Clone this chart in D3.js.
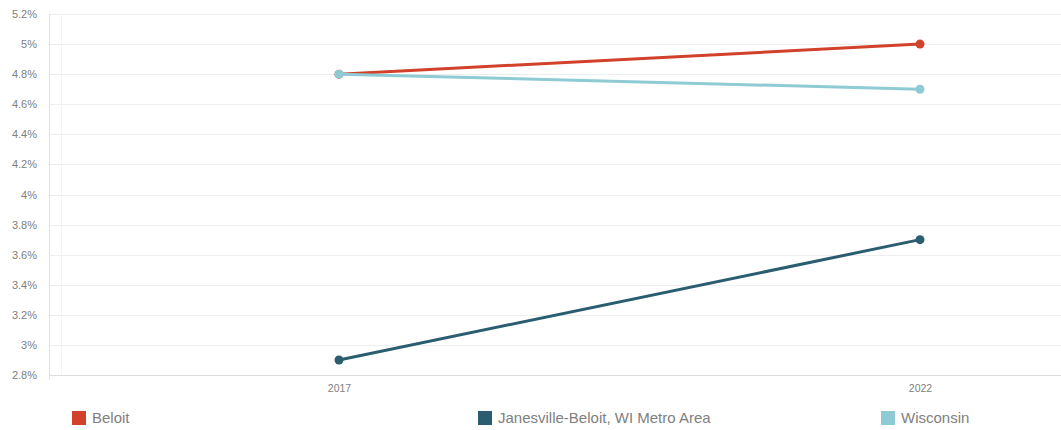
<!DOCTYPE html>
<html>
<head>
<meta charset="utf-8">
<script src="https://cdn.jsdelivr.net/npm/d3@7"></script>
<style>
  body { margin: 0; background: #fff; font-family: "Liberation Sans", Arial, sans-serif; }
  .tick text { fill: #808080; }
</style>
</head>
<body>
<div id="app"></div>
<script>
let years = ['2017', '2022']
let seriesNames = ['Beloit', 'Janesville-Beloit, WI Metro Area', 'Wisconsin']
let beloitValues = [4.8, 5.0]
let metroValues = [2.9, 3.7]
let wisconsinValues = [4.8, 4.7]
let yTicks = [2.8, 3, 3.2, 3.4, 3.6, 3.8, 4, 4.2, 4.4, 4.6, 4.8, 5, 5.2]
let colors = ['#d2412a', '#2a5d6f', '#8ecbd4']

let width = 1061
let height = 430

let svg = d3.select('#app').append('svg')
  .attr('width', width)
  .attr('height', height)

let x = d3.scalePoint().domain(years).range([339, 920])
let y = d3.scaleLinear().domain([2.8, 5.2]).range([375, 14])

// grid
svg.append('g')
  .selectAll('line')
  .data(yTicks)
  .enter()
  .append('line')
  .attr('x1', 49)
  .attr('x2', width)
  .attr('y1', d => Math.round(y(d)) + 0.5)
  .attr('y2', d => Math.round(y(d)) + 0.5)
  .attr('stroke', d => d === 2.8 ? '#ddd' : '#eee')

svg.append('line')
  .attr('x1', 49.5).attr('x2', 49.5)
  .attr('y1', 14).attr('y2', 380)
  .attr('stroke', '#e2e2e2')

svg.append('line')
  .attr('x1', 61.5).attr('x2', 61.5)
  .attr('y1', 14).attr('y2', 375)
  .attr('stroke', '#f3f3f3')

// y labels
let yAxis = svg.append('g')
  .attr('transform', 'translate(40,0)')
  .call(d3.axisLeft(y).tickValues(yTicks).tickSize(0).tickPadding(3)
    .tickFormat(d => d3.format('.1f')(d).replace('.0', '') + '%'))
yAxis.select('.domain').remove()
yAxis.selectAll('text').attr('font-size', 11).attr('font-family', '"Liberation Sans", Arial, sans-serif')

// x labels
let xAxis = svg.append('g')
  .attr('transform', 'translate(0,383)')
  .call(d3.axisBottom(x).tickSize(0).tickPadding(2))
xAxis.select('.domain').remove()
xAxis.selectAll('text').attr('font-size', 10.5).attr('font-family', '"Liberation Sans", Arial, sans-serif')

let series = [beloitValues, metroValues, wisconsinValues]

let line = d3.line()
  .x((d, i) => x(years[i]))
  .y(d => y(d))

// draw Wisconsin last so it sits over Beloit at 2017
let order = [1, 0, 2]
order.forEach(k => {
  let g = svg.append('g')
  g.append('path')
    .datum(series[k])
    .attr('d', line)
    .attr('fill', 'none')
    .attr('stroke', colors[k])
    .attr('stroke-width', 3)
  g.selectAll('circle')
    .data(series[k])
    .enter()
    .append('circle')
    .attr('cx', (d, i) => x(years[i]))
    .attr('cy', d => y(d))
    .attr('r', 4.5)
    .attr('fill', colors[k])
})

// legend
let legendX = [72, 478, 881]
let legend = svg.append('g')
  .selectAll('g')
  .data(seriesNames)
  .enter()
  .append('g')
  .attr('transform', (d, i) => `translate(${legendX[i]},411)`)

legend.append('rect')
  .attr('width', 14)
  .attr('height', 14)
  .attr('fill', (d, i) => colors[i])

legend.append('text')
  .attr('x', 20)
  .attr('y', 12)
  .attr('font-size', 15)
  .attr('fill', '#808080')
  .text(d => d)
</script>
</body>
</html>
